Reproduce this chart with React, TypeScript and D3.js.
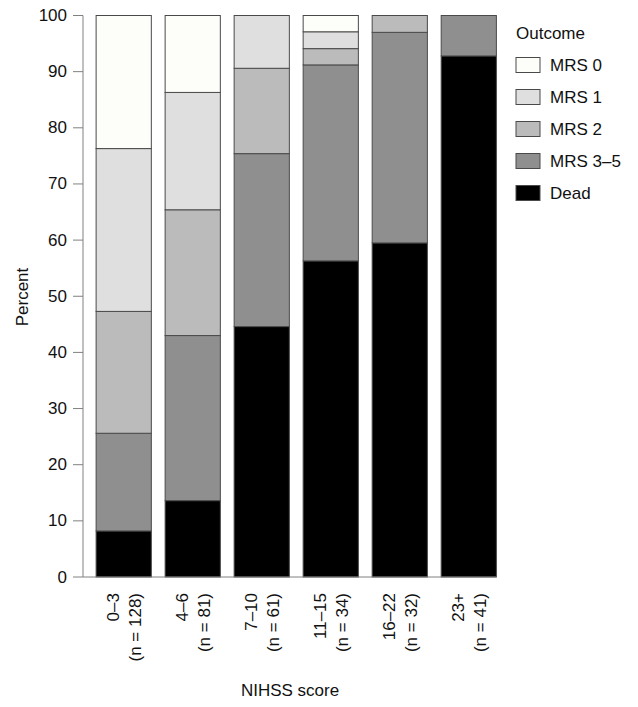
import { useMemo } from 'react';
import * as d3 from 'd3';

const categories = ['0–3', '4–6', '7–10', '11–15', '16–22', '23+'];
const nLabels = ['(n = 128)', '(n = 81)', '(n = 61)', '(n = 34)', '(n = 32)', '(n = 41)'];

// percent per outcome (bottom to top)
const dead = [8.2, 13.6, 44.6, 56.3, 59.5, 92.8];
const mrs35 = [17.4, 29.4, 30.8, 34.9, 37.5, 7.2];
const mrs2 = [21.7, 22.4, 15.2, 2.9, 3.0, 0];
const mrs1 = [29.0, 20.9, 9.4, 3.0, 0, 0];
const mrs0 = [23.7, 13.7, 0, 2.9, 0, 0];

const yTicks = [0, 10, 20, 30, 40, 50, 60, 70, 80, 90, 100];

const outcomeKeys = ['dead', 'mrs35', 'mrs2', 'mrs1', 'mrs0'];
const outcomeLabels = { mrs0: 'MRS 0', mrs1: 'MRS 1', mrs2: 'MRS 2', mrs35: 'MRS 3–5', dead: 'Dead' };
const outcomeColors = { mrs0: '#fdfdfa', mrs1: '#dfdfdf', mrs2: '#bbbbbb', mrs35: '#8f8f8f', dead: '#000000' };
const legendOrder = ['mrs0', 'mrs1', 'mrs2', 'mrs35', 'dead'];

const font = '"Liberation Sans", Arial, Helvetica, sans-serif';
const fs = 17;

export default function App() {
    const width = 638;
    const height = 707;
    const axisX = 83;

    const rows = useMemo(() => categories.map((c, i) => ({
        cat: c,
        dead: dead[i],
        mrs35: mrs35[i],
        mrs2: mrs2[i],
        mrs1: mrs1[i],
        mrs0: mrs0[i],
    })), []);

    const series = d3.stack().keys(outcomeKeys)(rows);

    const x = d3.scaleBand()
        .domain(categories)
        .range([axisX, 509.5])
        .paddingInner(0.2)
        .paddingOuter(0.19);

    const y = d3.scaleLinear()
        .domain([0, 100])
        .range([577, 15.5]);

    return (
        <svg width={width} height={height} style={{ position: 'absolute', left: 0, top: 0 }} fontFamily={font}>
            <rect width={width} height={height} fill="white" />

            {/* bars */}
            {series.map(s => (
                <g key={s.key}>
                    {s.map((d, i) => d[1] - d[0] > 0 && (
                        <rect
                            key={i}
                            x={x(categories[i])}
                            y={y(d[1])}
                            width={x.bandwidth()}
                            height={y(d[0]) - y(d[1])}
                            fill={outcomeColors[s.key]}
                            stroke="#4a4a4a"
                            strokeWidth={1}
                        />
                    ))}
                </g>
            ))}

            {/* y axis */}
            <line x1={axisX} y1={y(100)} x2={axisX} y2={y(0)} stroke="#808080" strokeWidth={1} />
            <line x1={axisX} y1={y(0)} x2={x.range()[1] - 13} y2={y(0)} stroke="#808080" strokeWidth={1} />
            {yTicks.map(t => (
                <g key={t} transform={`translate(0, ${y(t)})`}>
                    <line x1={axisX - 10} x2={axisX} stroke="#808080" strokeWidth={1} />
                    <text x={67} textAnchor="end" dominantBaseline="central" fontSize={fs} fill="#111">{t}</text>
                </g>
            ))}
            <text transform="translate(22, 297) rotate(-90)" textAnchor="middle" dominantBaseline="central" fontSize={fs} fill="#111">Percent</text>

            {/* x labels */}
            {categories.map((c, i) => {
                const cx = x(c) + x.bandwidth() / 2;
                return (
                    <g key={c} transform={`translate(${cx}, 593) rotate(-90)`}>
                        <text y={-10} textAnchor="end" dominantBaseline="central" fontSize={fs} fill="#111">{c}</text>
                        <text y={12} textAnchor="end" dominantBaseline="central" fontSize={fs} fill="#111">{nLabels[i]}</text>
                    </g>
                );
            })}
            <text x={290} y={690} textAnchor="middle" dominantBaseline="central" fontSize={fs} fill="#111">NIHSS score</text>

            {/* legend */}
            <text x={516} y={33} dominantBaseline="central" fontSize={fs} fill="#111">Outcome</text>
            {legendOrder.map((k, i) => (
                <g key={k} transform={`translate(516, ${65 + i * 32})`}>
                    <rect x={0} y={-7.5} width={24} height={15} fill={outcomeColors[k]} stroke="#4a4a4a" strokeWidth={1} />
                    <text x={34} dominantBaseline="central" fontSize={fs} fill="#111">{outcomeLabels[k]}</text>
                </g>
            ))}
        </svg>
    );
}
